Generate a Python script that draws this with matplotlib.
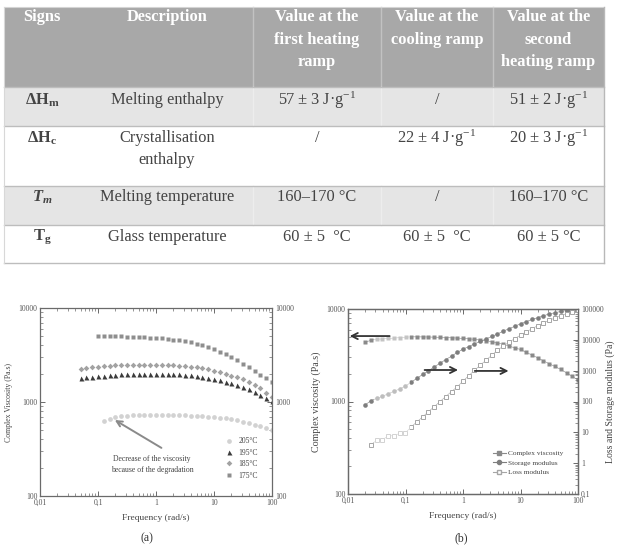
import matplotlib
matplotlib.use('Agg')
import matplotlib.pyplot as plt
from matplotlib.patches import Rectangle
from matplotlib.lines import Line2D
from matplotlib.ticker import FixedLocator, FixedFormatter, LogLocator, NullFormatter

plt.rcParams['font.family'] = ['Liberation Serif', 'DejaVu Serif']
plt.rcParams['mathtext.fontset'] = 'custom'
plt.rcParams['mathtext.rm'] = 'Liberation Serif'
plt.rcParams['mathtext.it'] = 'Liberation Serif:italic'
plt.rcParams['mathtext.bf'] = 'Liberation Serif:bold'
try:
    plt.rcParams['mathtext.bfit'] = 'Liberation Serif:italic:bold'
    TM_LABEL = r'$\mathbfit{T_m}$'
except KeyError:
    TM_LABEL = r'$\mathit{T_m}$'

# ---------------- table data ----------------
table_header = ['Signs', 'Description', 'Value at the\nfirst heating\nramp',
                'Value at the\ncooling ramp', 'Value at the\nsecond\nheating ramp']
table_signs = [r'$\mathbf{\Delta H_m}$', r'$\mathbf{\Delta H_c}$', TM_LABEL, r'$\mathbf{T_g}$']
table_desc = ['Melting enthalpy', 'Crystallisation\nenthalpy', 'Melting temperature', 'Glass temperature']
table_first = [r'57 ± 3 J·g$^{\mathrm{-1}}$', '/', '160–170 °C', '60 ± 5  °C']
table_cool = ['/', r'22 ± 4 J·g$^{\mathrm{-1}}$', '/', '60 ± 5  °C']
table_second = [r'51 ± 2 J·g$^{\mathrm{-1}}$', r'20 ± 3 J·g$^{\mathrm{-1}}$', '160–170 °C', '60 ± 5 °C']

# ---------------- plot (a) data ----------------
freq_175 = [0.1, 0.126, 0.158, 0.2, 0.251, 0.316, 0.398, 0.501, 0.631, 0.794, 1, 1.26, 1.58, 2, 2.51,
            3.16, 3.98, 5.01, 6.31, 7.94, 10, 12.6, 15.8, 20, 25.1, 31.6, 39.8, 50.1, 63.1, 79.4, 100]
visc_175 = [5070, 5050, 5030, 5000, 4980, 4950, 4920, 4890, 4860, 4820, 4780, 4740, 4690, 4620, 4540,
            4440, 4320, 4170, 4000, 3820, 3630, 3420, 3210, 3000, 2780, 2560, 2350, 2150, 1960, 1800, 1650]
freq_185 = [0.0501, 0.0631, 0.0794, 0.1, 0.126, 0.158, 0.2, 0.251, 0.316, 0.398, 0.501, 0.631, 0.794, 1,
            1.26, 1.58, 2, 2.51, 3.16, 3.98, 5.01, 6.31, 7.94, 10, 12.6, 15.8, 20, 25.1, 31.6, 39.8,
            50.1, 63.1, 79.4, 100]
visc_185 = [2250, 2300, 2340, 2380, 2410, 2430, 2450, 2460, 2470, 2480, 2480, 2480, 2480, 2475,
            2470, 2460, 2450, 2430, 2410, 2380, 2340, 2290, 2230, 2160, 2090, 2000, 1910, 1830, 1740, 1640,
            1530, 1400, 1260, 1120]
freq_195 = [0.0501, 0.0631, 0.0794, 0.1, 0.126, 0.158, 0.2, 0.251, 0.316, 0.398, 0.501, 0.631, 0.794, 1,
            1.26, 1.58, 2, 2.51, 3.16, 3.98, 5.01, 6.31, 7.94, 10, 12.6, 15.8, 20, 25.1, 31.6, 39.8,
            50.1, 63.1, 79.4, 100]
visc_195 = [1790, 1830, 1860, 1890, 1910, 1930, 1950, 1970, 1980, 1990, 2000, 2000, 2000, 2000,
            2000, 1990, 1980, 1970, 1950, 1930, 1900, 1860, 1820, 1770, 1710, 1650, 1580, 1510, 1440, 1360,
            1280, 1200, 1110, 1030]
freq_205 = [0.126, 0.158, 0.2, 0.251, 0.316, 0.398, 0.501, 0.631, 0.794, 1, 1.26, 1.58, 2, 2.51,
            3.16, 3.98, 5.01, 6.31, 7.94, 10, 12.6, 15.8, 20, 25.1, 31.6, 39.8, 50.1, 63.1, 79.4, 100]
visc_205 = [630, 665, 690, 705, 715, 720, 725, 728, 730, 730, 730, 728, 727, 725,
            722, 718, 713, 707, 700, 692, 682, 670, 655, 638, 618, 597, 575, 550, 525, 500]
legend_a = ['205°C', '195°C', '185°C', '175°C']

# ---------------- plot (b) data ----------------
freq_b = [0.02, 0.0251, 0.0316, 0.0398, 0.0501, 0.0631, 0.0794, 0.1, 0.126, 0.158, 0.2, 0.251, 0.316,
          0.398, 0.501, 0.631, 0.794, 1, 1.26, 1.58, 2, 2.51, 3.16, 3.98, 5.01, 6.31, 7.94, 10, 12.6,
          15.8, 20, 25.1, 31.6, 39.8, 50.1, 63.1, 79.4, 100]
complex_visc = [4370, 4600, 4700, 4750, 4800, 4850, 4900, 4950, 5000, 5000, 4990, 4980, 4960,
                4940, 4910, 4880, 4850, 4810, 4760, 4700, 4630, 4540, 4430, 4300, 4150, 3980, 3800, 3650, 3400,
                3180, 2960, 2750, 2560, 2390, 2220, 2040, 1870, 1700]
storage_mod = [78, 107, 126, 148, 178, 214, 257, 316, 427, 562, 760, 1000, 1320,
               1740, 2290, 2950, 3890, 5010, 6030, 7410, 8910, 10700, 12900, 15500, 19100, 22900, 27500, 33100, 38900,
               45700, 52500, 60300, 69200, 75900, 83200, 89100, 95500, 100000]
freq_loss = [0.0251, 0.0316, 0.0398, 0.0501, 0.0631, 0.0794, 0.1, 0.126, 0.158, 0.2, 0.251, 0.316,
             0.398, 0.501, 0.631, 0.794, 1, 1.26, 1.58, 2, 2.51, 3.16, 3.98, 5.01, 6.31, 7.94, 10, 12.6,
             15.8, 20, 25.1, 31.6, 39.8, 50.1, 63.1, 79.4, 100]
loss_mod = [3.9, 5.6, 5.8, 7.6, 7.8, 9.3, 9.8, 15, 22, 32, 47, 68,
            100, 145, 210, 300, 460, 690, 1020, 1510, 2190, 3160, 4570, 6310, 8320, 11000, 14100, 18200,
            22900, 28800, 35500, 42700, 51300, 60300, 70800, 81300, 91200]
legend_b = ['Complex viscosity', 'Storage modulus', 'Loss modulus']

W, H = 617, 553
fig = plt.figure(figsize=(W / 100, H / 100), dpi=100)

# ---------------- table ----------------
tax = fig.add_axes([0, 0, 1, 1])
tax.set_xlim(0, W)
tax.set_ylim(H, 0)
tax.axis('off')

col_edges = [3.5, 81, 253, 381, 493, 604]
row_edges = [6.5, 87, 126, 186, 225, 263]
col_centers = [(col_edges[i] + col_edges[i + 1]) / 2 for i in range(5)]
x0, x1 = col_edges[0], col_edges[-1]

tax.add_patch(Rectangle((x0, row_edges[0]), x1 - x0, row_edges[1] - row_edges[0],
                        facecolor='#a8a8a8', edgecolor='none'))
for r in (0, 2):
    tax.add_patch(Rectangle((x0, row_edges[r + 1]), x1 - x0, row_edges[r + 2] - row_edges[r + 1],
                            facecolor='#e5e5e5', edgecolor='none'))
for x in col_edges[2:-1]:
    tax.plot([x, x], [row_edges[0], row_edges[1]], color='#c2c2c2', lw=1.0)
    for r in (0, 2):
        tax.plot([x, x], [row_edges[r + 1], row_edges[r + 2]], color='#ededed', lw=1.0)
for y in row_edges[1:]:
    tax.plot([x0, x1], [y, y], color='#bdbdbd', lw=1.0)
tax.plot([x0, x1], [row_edges[0], row_edges[0]], color='#d4d4d4', lw=0.8)
tax.plot([x1, x1], [row_edges[0], row_edges[-1]], color='#b8b8b8', lw=1.0)
tax.plot([x0, x0], [row_edges[0], row_edges[-1]], color='#d8d8d8', lw=0.8)

header_line_y = [17, 39.5, 62]
for c, txt in enumerate(table_header):
    for i, line in enumerate(txt.split('\n')):
        tax.text(col_centers[c], header_line_y[i], line, ha='center', va='center',
                 fontsize=11.8, fontweight='bold', color='white')

body_first_y = [100, 138, 197, 237]
line_step = 21.5
columns = [table_signs, table_desc, table_first, table_cool, table_second]
for c, col in enumerate(columns):
    for r, txt in enumerate(col):
        for i, line in enumerate(txt.split('\n')):
            tax.text(col_centers[c], body_first_y[r] + i * line_step, line, ha='center', va='center',
                     fontsize=11.8, color='#444444')

# ---------------- common axis styling ----------------
TICK_COL = '#555555'
SPINE_COL = '#6a6a6a'


def style_log_axis(ax, xlabels):
    ax.set_xscale('log')
    ax.set_yscale('log')
    ax.xaxis.set_major_locator(FixedLocator([0.01, 0.1, 1, 10, 100]))
    ax.xaxis.set_major_formatter(FixedFormatter(xlabels))
    ax.xaxis.set_minor_locator(LogLocator(base=10, subs=range(2, 10)))
    ax.xaxis.set_minor_formatter(NullFormatter())
    ax.yaxis.set_minor_locator(LogLocator(base=10, subs=range(2, 10)))
    ax.yaxis.set_minor_formatter(NullFormatter())
    for s in ax.spines.values():
        s.set_color(SPINE_COL)
        s.set_linewidth(0.9)
    ax.tick_params(which='both', direction='in', top=True, colors=SPINE_COL, labelcolor=TICK_COL,
                   labelsize=5.5, pad=2)
    ax.tick_params(which='major', length=3.5, width=0.7)
    ax.tick_params(which='minor', length=2, width=0.5)


# ---------------- plot (a) ----------------
axA = fig.add_axes([40 / W, 1 - 496 / H, 232 / W, 188 / H])
style_log_axis(axA, ['0,01', '0,1', '1', '10', '100'])
axA.set_xlim(0.01, 100)
axA.set_ylim(100, 10000)
axA.yaxis.set_major_locator(FixedLocator([100, 1000, 10000]))
axA.yaxis.set_major_formatter(FixedFormatter(['100', '1000', '10000']))
axA.tick_params(which='both', right=True, labelright=True)

hA205, = axA.plot(freq_205, visc_205, ls='none', marker='o', ms=3.4, color='#d2d2d2', mec='none')
hA195, = axA.plot(freq_195, visc_195, ls='none', marker='^', ms=3.6, color='#3c3c3c', mec='none')
hA185, = axA.plot(freq_185, visc_185, ls='none', marker='D', ms=2.9, color='#a2a2a2', mec='none')
hA175, = axA.plot(freq_175, visc_175, ls='none', marker='s', ms=3.2, color='#8e8e8e', mec='none')

axA.legend([hA205, hA195, hA185, hA175], legend_a, loc='center left', bbox_to_anchor=(0.77, 0.2),
           frameon=False, fontsize=5.5, handlelength=1.0, handletextpad=0.7, labelspacing=0.45,
           labelcolor='#444444')

axA.annotate('', xy=(0.195, 643), xytext=(1.24, 325),
             arrowprops=dict(arrowstyle='->', color='#8a8a8a', lw=1.4, mutation_scale=10,
                             shrinkA=0, shrinkB=0))
axA.text(0.483, 0.168, 'Decrease of the viscosity\nbecause of the degradation', transform=axA.transAxes,
         ha='center', va='center', fontsize=5.6, color='#444444', linespacing=1.5)

axA.set_xlabel('Frequency (rad/s)', fontsize=6.8, color='#444444', labelpad=5)
axA.set_ylabel('Complex Viscosity (Pa.s)', fontsize=5.6, color='#444444', labelpad=4)
fig.text(147 / W, 1 - 538 / H, '(a)', ha='center', va='center', fontsize=8.5, color='#333333')

# ---------------- plot (b) ----------------
axB = fig.add_axes([348 / W, 1 - 494 / H, 230 / W, 185 / H])
style_log_axis(axB, ['0,01', '0,1', '1', '10', '100'])
axB.set_xlim(0.01, 100)
axB.set_ylim(100, 10000)
axB.yaxis.set_major_locator(FixedLocator([100, 1000, 10000]))
axB.yaxis.set_major_formatter(FixedFormatter(['100', '1000', '10000']))
axB.tick_params(which='both', right=False)

axB2 = axB.twinx()
axB2.set_yscale('log')
axB2.set_ylim(0.1, 100000)
axB2.yaxis.set_major_locator(FixedLocator([0.1, 1, 10, 100, 1000, 10000, 100000]))
axB2.yaxis.set_major_formatter(FixedFormatter(['0,1', '1', '10', '100', '1000', '10000', '100000']))
axB2.yaxis.set_minor_locator(LogLocator(base=10, subs=range(2, 10)))
axB2.yaxis.set_minor_formatter(NullFormatter())
for s in axB2.spines.values():
    s.set_color(SPINE_COL)
    s.set_linewidth(0.9)
axB2.tick_params(which='both', direction='in', colors=SPINE_COL, labelcolor=TICK_COL, labelsize=5.5, pad=2)
axB2.tick_params(which='major', length=3.5, width=0.7)
axB2.tick_params(which='minor', length=2, width=0.5)

c_visc, c_stor, c_loss = '#8a8a8a', '#7e7e7e', '#a6a6a6'
axB.plot(freq_b, complex_visc, ls='-', lw=0.4, marker='s', ms=3.2, color=c_visc, mec='none')
axB2.plot(freq_b, storage_mod, ls='-', lw=0.4, marker='o', ms=3.3, color=c_stor, mec='none')
axB2.plot(freq_loss, loss_mod, ls='-', lw=0.4, marker='s', ms=3.2, color=c_loss, mfc='white', mec=c_loss,
          mew=0.7)
axB2.axvspan(0.028, 0.118, ymin=0.2, ymax=0.92, color='white', alpha=0.5, lw=0, zorder=5)

arrow_kw = dict(arrowstyle='->', color='#333333', lw=1.3, mutation_scale=11, shrinkA=0, shrinkB=0)
axB2.annotate('', xy=(0.0107, 5100), xytext=(0.053, 5100), xycoords=axB.transData,
              textcoords=axB.transData, arrowprops=arrow_kw, zorder=6)
axB2.annotate('', xy=(0.82, 2190), xytext=(0.215, 2190), xycoords=axB.transData,
              textcoords=axB.transData, arrowprops=arrow_kw, zorder=6)
axB2.annotate('', xy=(6.2, 2140), xytext=(1.6, 2140), xycoords=axB.transData,
              textcoords=axB.transData, arrowprops=arrow_kw, zorder=6)

hB = [Line2D([], [], color=c_visc, lw=0.8, marker='s', ms=3),
      Line2D([], [], color=c_stor, lw=0.8, marker='o', ms=3),
      Line2D([], [], color=c_loss, lw=0.8, marker='s', ms=3, mfc='white')]
axB2.legend(hB, legend_b, loc='center left', bbox_to_anchor=(0.6, 0.17), frameon=False, fontsize=5.3,
            handlelength=1.8, handletextpad=0.3, labelspacing=0.45, labelcolor='#444444')

axB.set_xlabel('Frequency (rad/s)', fontsize=6.8, color='#444444', labelpad=5)
axB.set_ylabel('Complex viscosity (Pa.s)', fontsize=7.2, color='#444444', labelpad=4)
axB2.set_ylabel('Loss and Storage modulus (Pa)', fontsize=7.0, color='#444444', labelpad=1.5)
fig.text(461 / W, 1 - 538 / H, '(b)', ha='center', va='center', fontsize=8.5, color='#333333')

fig.savefig('out.png', dpi=100)
